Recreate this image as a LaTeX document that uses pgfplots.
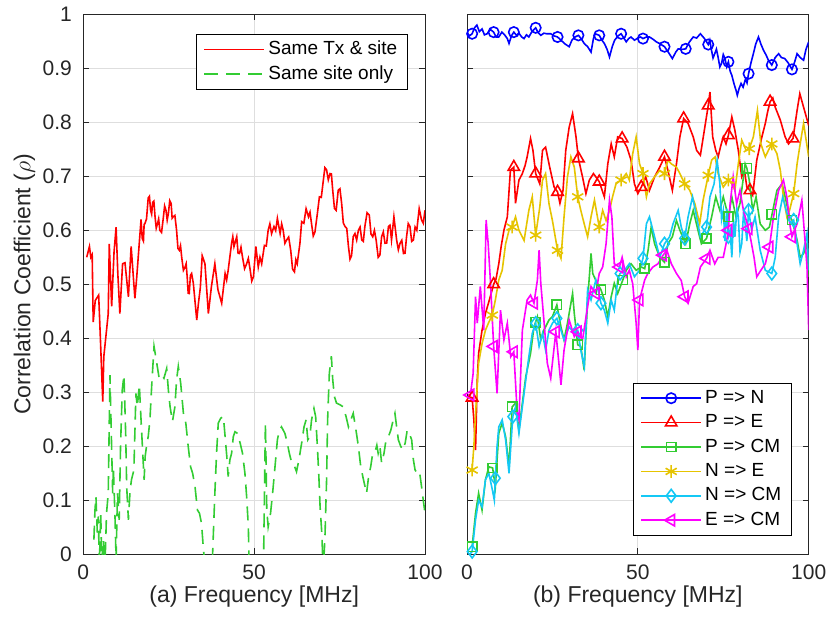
\documentclass[border=0pt]{standalone}
\usepackage{pgfplots}
\pgfplotsset{compat=1.18}
\usepackage{fontspec}
\setmainfont{Liberation Sans}
\definecolor{axgray}{RGB}{38,38,38}
\definecolor{mgreen}{RGB}{51,204,51}
\definecolor{myellow}{RGB}{230,196,0}
\definecolor{mcyan}{RGB}{20,200,245}
\definecolor{mmag}{RGB}{255,0,255}
\newcommand{\fs}{\fontsize{10.5}{12}\selectfont}
\newcommand{\fl}{\fontsize{11.5}{13}\selectfont}
\newcommand{\fg}{\fontsize{9.5}{11}\selectfont}
\pgfplotsset{
  mystyle/.style={
    scale only axis, width=170.85pt, height=270pt,
    xmin=0, xmax=100, ymin=0, ymax=1,
    xtick={0,50,100},
    ytick={0,0.1,0.2,0.3,0.4,0.5,0.6,0.7,0.8,0.9,1},
    tick align=inside, major tick length=3pt,
    axis line style={axgray, line width=0.5pt},
    every tick/.style={axgray, line width=0.5pt},
    grid=major, major grid style={color=black!13, line width=0.5pt},
    tick label style={font=\fs, text=axgray},
    /pgf/number format/assume math mode=true,
    xticklabel style={yshift=-1.5pt},
    yticklabel style={xshift=-2.2pt},
    label style={font=\fl, text=axgray},
    xlabel style={at={(axis description cs:0.5,-0.079)}, anchor=center},
    legend cell align=left,
    legend image code/.code={\draw[mark repeat=2,mark phase=2,##1] plot coordinates {(0pt,0pt) (15pt,0pt) (30pt,0pt)};},
    legend style={draw=black, line width=0.5pt, fill=white, font=\fg,
      inner xsep=3.5pt, inner ysep=1.5pt, row sep=0pt,
      nodes={inner xsep=1.6pt, inner ysep=1.4pt, text height=7.2pt, text depth=2.2pt}},
  }
}
\begin{document}
\begin{tikzpicture}
\useasboundingbox (-41.65pt,-34.35pt) rectangle (373.35pt,277.15pt);
% ---------------- left panel ----------------
\begin{axis}[mystyle, at={(0pt,0pt)}, anchor=south west,
  yticklabels={0,0.1,0.2,0.3,0.4,0.5,0.6,0.7,0.8,0.9,1},
  xlabel={(a) Frequency [MHz]},
  ylabel={Correlation Coefficient ($\rho$)},
  ylabel style={at={(axis description cs:-0.172,0.5)}, anchor=center},
  legend style={at={(axis description cs:1,1)}, anchor=north east, xshift=-8.5pt, yshift=-9.8pt},
]
\addplot[red, line width=0.8pt] table {
1.0 0.55
1.8 0.57
2.2 0.55
2.6 0.555
2.9 0.43
3.5 0.47
4.5 0.48
5.0 0.40
5.7 0.283
6.0 0.366
6.8 0.415
7.3 0.446
7.6 0.575
8.3 0.459
9.0 0.56
9.6 0.606
10.1 0.52
10.7 0.446
11.5 0.538
12.2 0.54
13.2 0.477
14.0 0.57
15.1 0.474
15.6 0.51
16.9 0.62
17.25 0.585
17.6 0.58
17.8 0.611
18.0 0.612
18.5 0.621
19.0 0.66
19.35 0.663
19.7 0.637
20.0 0.63
20.3 0.652
20.65 0.654
21.0 0.625
21.35 0.604
21.7 0.612
22.05 0.621
22.4 0.60
22.9 0.596
23.4 0.622
23.8 0.645
24.2 0.637
24.55 0.619
24.9 0.631
25.3 0.655
25.7 0.65
26.0 0.6225
26.3 0.625
26.8 0.6275
27.3 0.60
27.7 0.5665
28.1 0.563
28.45 0.5715
28.8 0.55
29.3 0.526
29.8 0.532
30.1 0.538
30.4 0.514
30.7 0.4835
31.0 0.483
31.35 0.5165
31.7 0.52
32.2 0.502
33.2 0.434
33.7 0.465
34.25 0.494
34.8 0.553
35.6 0.538
36.6 0.446
37.5 0.496
38.5 0.538
39.4 0.49
40.5 0.465
41.5 0.52
41.95 0.508
42.4 0.526
43.4 0.576
43.75 0.588
44.1 0.57
44.9 0.588
45.3 0.5575
45.7 0.557
46.15 0.5685
46.6 0.55
47.2 0.529
47.8 0.538
48.3 0.548
48.8 0.528
49.3 0.506
49.8 0.514
50.5 0.57
51.2 0.532
51.7 0.55
52.2 0.538
53.0 0.572
53.55 0.571
54.1 0.60
54.6 0.612
55.1 0.594
55.8 0.607
56.3 0.5995
56.8 0.622
57.6 0.594
58.05 0.612
58.5 0.60
59.0 0.576
59.5 0.582
60.1 0.5875
60.7 0.563
61.25 0.528
61.8 0.523
62.2 0.5455
62.6 0.538
63.4 0.576
63.9 0.616
64.55 0.613
65.2 0.64
65.9 0.625
66.35 0.6335
66.8 0.612
67.3 0.5895
67.8 0.597
68.5 0.631
69.1 0.662
69.65 0.661
70.2 0.69
70.7 0.716
71.2 0.712
71.7 0.6935
72.2 0.705
72.6 0.7045
73.0 0.674
73.5 0.6405
74.0 0.637
74.6 0.674
75.1 0.677
75.6 0.65
76.1 0.6135
76.6 0.607
77.1 0.6035
77.6 0.57
78.05 0.5465
78.5 0.553
79.0 0.5885
79.5 0.594
80.0 0.582
80.5 0.60
81.0 0.606
81.5 0.582
81.95 0.5795
82.4 0.607
83.05 0.6325
83.7 0.628
84.2 0.593
84.7 0.588
85.2 0.60
85.7 0.582
86.3 0.55
86.8 0.554
87.3 0.588
87.8 0.597
88.3 0.576
88.8 0.5765
89.3 0.607
89.75 0.6095
90.2 0.582
90.9 0.625
91.7 0.582
92.2 0.564
92.7 0.576
93.2 0.5815
93.7 0.557
94.15 0.5575
94.6 0.588
95.1 0.6125
95.6 0.607
96.1 0.5795
96.6 0.582
97.1 0.606
97.6 0.60
98.3 0.64
99.0 0.619
99.5 0.613
100 0.637
};
\addlegendentry{Same Tx \& site}
\addplot[mgreen, line width=0.8pt, dash pattern=on 7pt off 4pt] table {
3.1 0.027
3.4 0.08
3.7 0.107
4.1 0.04
4.4 0.07
4.7 -0.02
5.1 0.076
5.4 -0.01
5.9 0.027
6.3 -0.03
6.8 0.076
7.3 0.113
7.8 0.332
8.1 0.25
8.6 0.113
8.8 0.162
9.3 0.064
9.6 -0.01
10.0 0.113
10.5 0.064
10.9 0.2
11.4 0.304
11.9 0.332
12.4 0.224
12.7 0.125
13.2 0.064
13.7 0.119
14.1 0.138
14.8 0.156
15.4 0.298
15.8 0.273
16.4 0.314
16.9 0.249
17.4 0.187
17.8 0.138
18.1 0.181
18.5 0.2
19.0 0.218
19.5 0.249
20.0 0.31
20.7 0.385
21.5 0.354
22.2 0.326
22.9 0.332
23.6 0.326
24.4 0.344
24.9 0.304
25.4 0.273
26.1 0.246
26.8 0.273
27.3 0.323
27.8 0.348
28.5 0.317
29.3 0.261
30.0 0.243
30.7 0.2
31.4 0.162
32.0 0.15
32.7 0.125
33.4 0.082
34.0 0.076
34.6 0.057
35.1 0.014
35.9 -0.04
37.6 -0.04
38.0 0.027
38.5 0.113
39.0 0.187
39.5 0.243
40.2 0.252
41.0 0.255
41.5 0.218
42.0 0.181
42.4 0.144
42.9 0.175
43.4 0.187
43.9 0.218
44.4 0.227
45.1 0.224
45.9 0.206
46.6 0.187
47.3 0.15
47.8 0.107
48.3 0.051
48.6 -0.04
52.7 -0.04
53.0 0.107
53.3 0.243
53.7 0.082
54.1 0.051
54.8 0.076
55.4 0.113
56.1 0.162
56.8 0.212
57.4 0.23
58.0 0.236
59.0 0.224
59.7 0.206
60.3 0.187
61.0 0.169
61.7 0.165
62.4 0.153
63.1 0.175
63.9 0.206
64.6 0.236
65.2 0.249
65.7 0.212
66.3 0.218
66.8 0.249
67.5 0.27
68.0 0.255
68.5 0.2
68.9 0.15
69.3 0.088
69.8 0.039
70.2 -0.03
70.7 0.027
71.2 0.138
71.5 0.249
72.0 0.335
72.6 0.367
73.0 0.323
73.5 0.292
74.1 0.28
75.1 0.277
76.1 0.273
76.9 0.255
77.6 0.236
78.3 0.249
79.0 0.261
79.8 0.23
80.5 0.2
81.2 0.162
82.0 0.138
82.9 0.113
83.5 0.144
84.1 0.162
84.7 0.187
85.4 0.19
85.9 0.202
86.3 0.187
86.8 0.2
87.3 0.169
88.0 0.187
88.6 0.212
89.3 0.218
90.0 0.23
90.7 0.249
91.2 0.261
91.7 0.236
92.2 0.212
92.9 0.2
93.5 0.193
94.2 0.206
94.8 0.23
95.4 0.224
96.1 0.212
96.6 0.175
97.1 0.156
97.8 0.15
98.4 0.153
99.0 0.125
99.5 0.1
100 0.076
};
\addlegendentry{Same site only}
\end{axis}
% ---------------- right panel ----------------
\begin{axis}[mystyle, at={(191.85pt,0pt)}, anchor=south west,
  yticklabels={},
  xlabel={(b) Frequency [MHz]},
  legend style={at={(axis description cs:1,0)}, anchor=south east, xshift=-8.4pt, yshift=9.2pt},
]
% P => N
\addplot[blue, line width=0.8pt, forget plot] table {
0 0.967
0.7 0.96
1.5 0.964
2.2 0.975
2.9 0.98
3.6 0.968
4.4 0.973
5.1 0.962
5.9 0.964
6.8 0.972
7.8 0.967
8.5 0.958
9.3 0.958
10.2 0.967
11.0 0.962
11.8 0.955
12.3 0.946
13.0 0.96
13.7 0.967
14.5 0.961
15.2 0.965
16.0 0.958
16.7 0.955
17.4 0.962
18.1 0.958
19.0 0.968
20.1 0.975
20.8 0.966
21.6 0.961
22.5 0.965
23.3 0.964
24.5 0.964
25.5 0.96
26.5 0.958
27.5 0.952
28.7 0.945
29.9 0.94
30.7 0.952
31.6 0.958
32.6 0.961
33.4 0.955
34.3 0.946
35.3 0.94
36.3 0.93
37.0 0.955
37.5 0.964
38.7 0.961
39.5 0.952
40.2 0.946
41.0 0.935
41.7 0.921
42.5 0.94
43.2 0.952
44.2 0.96
45.1 0.964
46.0 0.955
46.6 0.949
47.3 0.955
48.0 0.958
49.0 0.952
50.0 0.956
50.8 0.958
51.5 0.955
52.5 0.958
53.4 0.958
54.4 0.954
55.4 0.949
56.6 0.945
57.8 0.94
58.9 0.93
60.1 0.918
61.1 0.93
61.8 0.936
62.9 0.935
64.0 0.936
65.0 0.948
66.2 0.958
67.2 0.956
68.3 0.964
69.5 0.955
70.6 0.944
71.05 0.952
71.5 0.935
72.0 0.919
72.5 0.927
73.0 0.9355
73.5 0.92
74.0 0.9025
74.5 0.909
75.0 0.9255
75.5 0.918
76.0 0.903
76.5 0.912
77.0 0.895
77.5 0.887
78.2 0.87
78.7 0.86
79.1 0.85
79.6 0.862
80.2 0.872
80.8 0.865
81.5 0.88
81.95 0.873
82.4 0.89
83.1 0.91
83.8 0.927
84.5 0.945
85.3 0.958
86.0 0.945
86.8 0.933
87.5 0.925
88.2 0.915
89.2 0.906
90.2 0.92
91.2 0.927
92.0 0.92
93.0 0.918
94.0 0.91
95.1 0.898
95.8 0.91
96.6 0.927
97.5 0.92
98.5 0.915
99.2 0.935
100 0.949
};
\addplot[blue, only marks, mark=o, mark size=2.6pt, line width=0.8pt, forget plot] coordinates {
(1.5,0.964)(7.8,0.967)(13.7,0.967)(20.1,0.975)(26.5,0.958)(32.6,0.961)(38.7,0.961)(45.1,0.964)
(51.5,0.955)(57.8,0.94)(64.0,0.936)(70.6,0.944)(76.5,0.912)(82.4,0.89)(89.2,0.906)(95.1,0.898)};
% P => E
\addplot[red, line width=0.8pt, forget plot] table {
0.5 0.292
1.5 0.29
2.0 0.25
2.5 0.193
3.0 0.323
3.4 0.372
4.4 0.415
5.4 0.446
6.5 0.47
7.8 0.5
8.5 0.51
9.3 0.538
10.0 0.57
10.8 0.6
11.8 0.625
12.7 0.711
13.7 0.717
14.2 0.65
15.2 0.693
16.2 0.705
17.0 0.72
17.6 0.736
18.6 0.77
19.3 0.748
20.1 0.705
21.3 0.686
22.1 0.748
23.0 0.754
24.2 0.717
25.5 0.68
26.5 0.671
27.2 0.65
28.1 0.674
28.9 0.748
29.9 0.791
30.9 0.816
31.9 0.773
32.6 0.733
33.8 0.699
34.8 0.668
35.8 0.693
37.0 0.705
37.7 0.699
38.7 0.69
40.2 0.662
41.2 0.723
42.2 0.76
43.1 0.736
44.1 0.773
45.4 0.77
46.8 0.754
48.0 0.73
49.0 0.686
50.0 0.668
51.0 0.68
52.3 0.699
53.4 0.674
54.9 0.699
56.4 0.717
57.8 0.736
58.8 0.711
60.1 0.674
61.3 0.723
62.3 0.773
63.4 0.807
64.7 0.798
66.2 0.773
67.2 0.748
68.3 0.739
69.6 0.791
70.6 0.831
71.1 0.856
71.9 0.773
72.8 0.748
73.5 0.736
74.2 0.755
75.0 0.773
75.8 0.76
76.5 0.776
77.5 0.81
78.4 0.785
79.4 0.748
80.4 0.699
81.2 0.71
81.9 0.68
82.8 0.674
83.6 0.665
84.8 0.73
85.5 0.75
86.3 0.773
87.3 0.798
88.0 0.82
88.7 0.838
89.5 0.845
90.2 0.828
91.7 0.804
93.1 0.773
94.1 0.76
95.4 0.77
96.6 0.822
97.4 0.853
98.5 0.828
99.3 0.81
100 0.794
};
\addplot[red, only marks, mark=triangle, mark size=3.3pt, line width=0.8pt, forget plot] coordinates {
(1.5,0.29)(7.8,0.5)(13.7,0.717)(20.1,0.705)(26.5,0.671)(32.6,0.733)(38.7,0.69)(45.4,0.77)
(51.0,0.68)(57.8,0.736)(63.4,0.807)(70.6,0.831)(76.5,0.776)(82.8,0.674)(88.7,0.838)(95.4,0.77)};
% P => CM
\addplot[mgreen, line width=0.8pt, forget plot] table {
1.5 0.014
2.5 0.076
3.4 0.113
4.4 0.082
5.4 0.138
6.4 0.162
7.5 0.16
8.3 0.125
9.3 0.224
10.3 0.243
11.3 0.218
12.3 0.162
13.2 0.273
14.2 0.28
15.2 0.23
16.2 0.28
17.2 0.329
18.6 0.372
19.6 0.421
20.6 0.44
21.6 0.397
22.5 0.415
24.0 0.434
25.0 0.44
26.3 0.462
27.5 0.421
28.4 0.397
29.4 0.428
30.9 0.483
31.4 0.446
32.4 0.388
33.3 0.385
34.3 0.341
35.3 0.471
36.3 0.557
36.8 0.52
37.7 0.507
39.2 0.49
40.2 0.471
41.2 0.44
42.2 0.477
43.1 0.502
44.1 0.483
45.6 0.508
46.6 0.526
48.0 0.538
49.5 0.526
51.0 0.532
52.0 0.529
53.0 0.563
53.9 0.606
54.9 0.575
56.4 0.55
57.8 0.541
58.8 0.575
60.1 0.588
61.3 0.618
62.3 0.6
64.0 0.575
65.2 0.612
66.2 0.637
67.6 0.6
68.6 0.575
70.1 0.585
71.6 0.625
72.8 0.662
74.0 0.637
75.0 0.662
76.5 0.625
77.5 0.662
78.7 0.625
79.9 0.65
81.4 0.723
81.9 0.715
82.6 0.693
83.6 0.637
84.6 0.662
85.8 0.612
87.3 0.6
88.5 0.606
89.5 0.637
90.7 0.674
92.2 0.686
93.1 0.662
94.4 0.625
95.1 0.619
96.6 0.582
97.5 0.55
98.5 0.557
99.5 0.575
100 0.514
};
\addplot[mgreen, only marks, mark=square, mark size=2.3pt, line width=0.8pt, forget plot] coordinates {
(1.5,0.014)(7.5,0.16)(13.2,0.273)(20.1,0.43)(26.3,0.462)(32.4,0.388)(39.2,0.49)(45.6,0.508)
(52.0,0.529)(57.8,0.541)(64.0,0.575)(70.1,0.585)(76.5,0.625)(81.9,0.715)(89.2,0.63)(95.1,0.619)};
% N => E
\addplot[myellow, line width=0.8pt, forget plot] table {
1.5 0.156
2.0 0.2
2.5 0.26
3.4 0.354
4.4 0.39
5.4 0.415
6.4 0.43
7.4 0.443
8.3 0.471
9.3 0.508
10.3 0.526
11.3 0.575
12.3 0.6
13.2 0.606
14.2 0.625
15.2 0.6
16.7 0.581
18.1 0.637
19.1 0.662
20.1 0.591
21.3 0.643
22.1 0.693
23.0 0.705
24.0 0.649
25.0 0.618
26.5 0.563
27.5 0.548
28.4 0.625
29.4 0.699
30.4 0.736
31.4 0.717
32.4 0.662
33.3 0.637
34.3 0.612
35.3 0.588
36.3 0.625
37.3 0.656
38.7 0.606
39.7 0.637
40.7 0.618
41.7 0.637
42.6 0.662
43.6 0.686
45.1 0.693
46.6 0.705
47.5 0.693
48.5 0.742
49.5 0.773
50.5 0.723
51.5 0.705
52.5 0.662
53.4 0.686
54.9 0.699
56.4 0.711
57.8 0.705
58.8 0.73
59.8 0.723
61.3 0.717
62.3 0.705
63.7 0.686
65.2 0.674
66.7 0.649
68.1 0.612
69.1 0.656
70.6 0.702
71.6 0.73
72.6 0.736
73.5 0.705
75.0 0.68
76.5 0.693
77.5 0.686
78.4 0.674
79.4 0.723
80.4 0.767
81.7 0.748
82.6 0.751
83.8 0.773
85.0 0.822
86.0 0.76
87.3 0.736
88.2 0.748
89.2 0.76
90.7 0.742
91.7 0.711
92.6 0.662
93.6 0.625
94.4 0.637
95.6 0.668
96.6 0.723
97.5 0.76
98.5 0.798
100 0.736
};
\addplot[myellow, only marks, mark=asterisk, mark size=3.2pt, line width=0.8pt, forget plot] coordinates {
(1.5,0.156)(7.4,0.443)(13.2,0.606)(20.1,0.591)(26.5,0.563)(32.4,0.662)(38.7,0.606)(45.1,0.693)
(51.5,0.705)(57.8,0.705)(63.7,0.686)(70.6,0.702)(76.5,0.693)(82.6,0.751)(89.2,0.76)(95.6,0.668)};
% N => CM
\addplot[mcyan, line width=0.8pt, forget plot] table {
0.8 0.0
1.5 0.005
2.5 0.064
3.4 0.1
4.4 0.088
5.4 0.138
6.4 0.15
7.4 0.12
8.0 0.1
8.3 0.141
8.8 0.2
9.3 0.236
10.3 0.249
11.3 0.212
12.3 0.15
13.4 0.255
14.2 0.273
15.2 0.224
16.2 0.273
17.2 0.323
18.1 0.366
19.1 0.409
20.1 0.428
21.1 0.385
22.1 0.409
23.0 0.378
24.0 0.415
25.0 0.428
26.3 0.437
27.5 0.415
28.4 0.397
29.9 0.421
31.4 0.409
32.4 0.415
33.3 0.378
34.3 0.348
35.3 0.49
36.3 0.471
37.7 0.508
39.2 0.465
40.2 0.452
41.2 0.428
42.2 0.471
43.1 0.452
44.1 0.508
44.8 0.52
46.1 0.526
47.5 0.538
49.0 0.514
50.5 0.526
51.5 0.548
52.5 0.612
53.4 0.625
54.9 0.588
56.4 0.55
57.8 0.575
59.3 0.588
60.3 0.612
61.8 0.637
62.7 0.606
63.7 0.585
64.7 0.625
66.0 0.662
67.2 0.625
68.3 0.588
70.1 0.606
71.1 0.662
72.3 0.686
73.2 0.73
74.0 0.686
74.5 0.62
75.0 0.637
75.5 0.58
76.0 0.64
76.5 0.588
77.0 0.6
77.5 0.55
78.0 0.62
78.4 0.588
79.0 0.64
79.4 0.625
79.9 0.56
80.4 0.575
80.9 0.63
81.4 0.612
81.9 0.58
82.4 0.637
83.3 0.6
84.3 0.625
85.8 0.563
87.3 0.526
89.2 0.52
90.2 0.55
91.2 0.625
92.4 0.662
93.4 0.637
94.6 0.612
95.6 0.619
96.6 0.575
97.5 0.538
98.5 0.563
99.5 0.594
100 0.526
};
\addplot[mcyan, only marks, mark=diamond, mark size=3.2pt, line width=0.8pt, forget plot] coordinates {
(1.5,0.005)(8.3,0.141)(13.4,0.255)(20.1,0.428)(26.3,0.437)(32.4,0.415)(39.2,0.465)(44.8,0.52)
(51.5,0.548)(57.8,0.575)(63.7,0.585)(70.1,0.606)(76.5,0.588)(82.4,0.637)(89.2,0.52)(95.6,0.619)};
% E => CM
\addplot[mmag, line width=0.8pt, forget plot] table {
0.3 0.295
1.0 0.295
1.8 0.335
2.5 0.477
3.0 0.428
3.9 0.496
4.9 0.415
5.6 0.619
6.2 0.575
6.9 0.501
7.8 0.385
8.8 0.298
9.8 0.452
10.8 0.397
11.8 0.428
12.8 0.366
13.7 0.375
14.7 0.261
15.2 0.25
16.2 0.415
17.6 0.471
18.6 0.48
19.6 0.465
20.6 0.508
21.1 0.563
21.6 0.501
22.5 0.434
23.5 0.354
24.5 0.326
26.0 0.412
27.5 0.314
28.4 0.378
29.9 0.434
31.4 0.403
32.4 0.412
33.8 0.397
35.3 0.459
36.3 0.496
37.7 0.483
38.7 0.52
39.7 0.532
40.7 0.575
41.7 0.656
42.4 0.625
43.1 0.538
44.6 0.532
45.4 0.55
46.6 0.514
47.5 0.526
48.5 0.501
49.5 0.428
50.0 0.378
50.5 0.471
52.0 0.508
52.9 0.52
54.4 0.532
55.9 0.538
57.4 0.554
58.5 0.563
59.8 0.538
61.3 0.52
62.7 0.507
63.7 0.477
64.7 0.465
66.2 0.496
67.2 0.501
68.3 0.532
70.1 0.548
71.1 0.563
72.5 0.538
73.5 0.55
75.0 0.55
76.0 0.581
76.5 0.6
77.0 0.649
77.9 0.699
78.9 0.649
79.9 0.674
80.9 0.637
82.4 0.603
83.1 0.581
84.0 0.55
84.8 0.514
86.0 0.526
87.3 0.538
88.5 0.569
89.7 0.625
91.2 0.674
92.6 0.693
93.6 0.662
94.6 0.606
95.1 0.588
96.6 0.612
98.0 0.656
99.0 0.575
99.5 0.532
100 0.415
};
\addplot[mmag, only marks, mark=triangle, mark size=3.3pt, mark options={rotate=90}, line width=0.8pt, forget plot] coordinates {
(1.0,0.295)(7.8,0.385)(13.7,0.375)(19.6,0.465)(26.0,0.412)(32.4,0.412)(37.7,0.483)(44.6,0.532)
(50.5,0.471)(57.4,0.554)(63.7,0.477)(70.1,0.548)(76.5,0.6)(82.4,0.603)(88.5,0.569)(95.1,0.588)};
% legend
\addlegendimage{blue, line width=0.8pt, mark=o, mark size=2.6pt}
\addlegendentry{P => N}
\addlegendimage{red, line width=0.8pt, mark=triangle, mark size=3.3pt}
\addlegendentry{P => E}
\addlegendimage{mgreen, line width=0.8pt, mark=square, mark size=2.3pt}
\addlegendentry{P => CM}
\addlegendimage{myellow, line width=0.8pt, mark=asterisk, mark size=3.2pt}
\addlegendentry{N => E}
\addlegendimage{mcyan, line width=0.8pt, mark=diamond, mark size=3.2pt}
\addlegendentry{N => CM}
\addlegendimage{mmag, line width=0.8pt, mark=triangle, mark size=3.3pt, mark options={rotate=90}}
\addlegendentry{E => CM}
\end{axis}
\end{tikzpicture}
\end{document}
